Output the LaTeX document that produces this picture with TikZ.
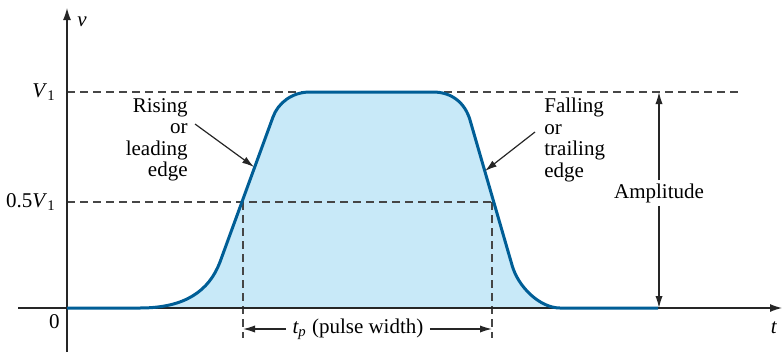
\documentclass[tikz,border=0pt]{standalone}
\usepackage{fontspec}
\setmainfont{Liberation Serif}
\usepackage{tikz}
\usepackage{xcolor}
\usetikzlibrary{arrows.meta}

\definecolor{pulseblue}{RGB}{0,94,150}
\definecolor{pulsefill}{RGB}{200,233,248}
\definecolor{dashgray}{RGB}{70,70,70}

\tikzset{
  lbl/.style={font=\fontsize{10.5}{10.7}\selectfont, inner sep=1.5pt},
  guide/.style={draw=dashgray, thick, dash pattern=on 4pt off 2.5pt},
  axis/.style={draw=black!85, semithick, -{Latex[length=6pt,width=4pt]}},
  pointer/.style={draw=black!85, semithick, -{Latex[length=6pt,width=3.6pt]}}
}

\begin{document}
\begin{tikzpicture}[x=0.5pt, y=-0.5pt]
\useasboundingbox (0,0) rectangle (782,354);

% points of the pulse
\coordinate (O) at (67,308);
\coordinate (rise0) at (140,308);
\coordinate (fall1) at (560,308);
\coordinate (tail) at (658,308);
\coordinate (top) at (659,92);
\coordinate (halfL) at (243,202);
\coordinate (halfR) at (492,202);

% filled pulse
\fill[pulsefill] (rise0) .. controls (185,308) and (209,291) .. (220,262) -- (273,117)
  .. controls (278,103) and (292,92) .. (310,92) -- (433,92)
  .. controls (452,92) and (465,103) .. (470,120) -- (512,265)
  .. controls (518,287) and (540,308) .. (fall1) -- cycle;

% guide lines
\draw[guide] (O |- top) -- (738,92);
\draw[guide] (O |- halfL) -- (halfR);
\draw[guide] (halfL) -- (243,338);
\draw[guide] (halfR) -- (492,338);

% axes
\draw[axis] (67,352) -- (67,8);
\draw[axis] (18,308) -- (782,308);
\node[lbl, anchor=west] (vlab) at (74,22) {\textit{v}};
\node[lbl] (tlab) at (774,328) {\textit{t}};
\node[lbl, anchor=east] (V1) at (59,92) {\textit{V}\textsubscript{1}};
\node[lbl, anchor=east] (halfV1) at (59,202) {0.5\textit{V}\textsubscript{1}};
\node[lbl, anchor=east] (zero) at (63,322) {0};

% pulse outline
\draw[pulseblue, line width=1.5pt, line join=round] (O) -- (rise0)
  .. controls (185,308) and (209,291) .. (220,262) -- (273,117)
  .. controls (278,103) and (292,92) .. (310,92) -- (433,92)
  .. controls (452,92) and (465,103) .. (470,120) -- (512,265)
  .. controls (518,287) and (540,308) .. (fall1) -- (tail);

% edge labels
\node[lbl, align=right, anchor=east] (rising) at (191,140) {Rising\\or\\leading\\edge};
\node[lbl, align=left, anchor=west] (falling) at (541,140) {Falling\\or\\trailing\\edge};
\coordinate (risetip) at (254,167);
\coordinate (falltip) at (485,171);
\draw[pointer] ([xshift=2pt, yshift=8pt]rising.east) -- (risetip);
\draw[pointer] ([xshift=-3pt, yshift=4pt]falling.west) -- (falltip);

% amplitude
\node[lbl, fill=white] (amp) at (659,193) {Amplitude};
\draw[pointer] (amp.north) -- (top);
\draw[pointer] (amp.south) -- (top |- O);

% pulse width
\node[lbl, inner sep=3pt] (tp) at (358,329) {\textit{t\textsubscript{p}} (pulse width)};
\draw[pointer] (tp.west) -- (halfL |- tp);
\draw[pointer] (tp.east) -- (halfR |- tp);
\end{tikzpicture}
\end{document}
